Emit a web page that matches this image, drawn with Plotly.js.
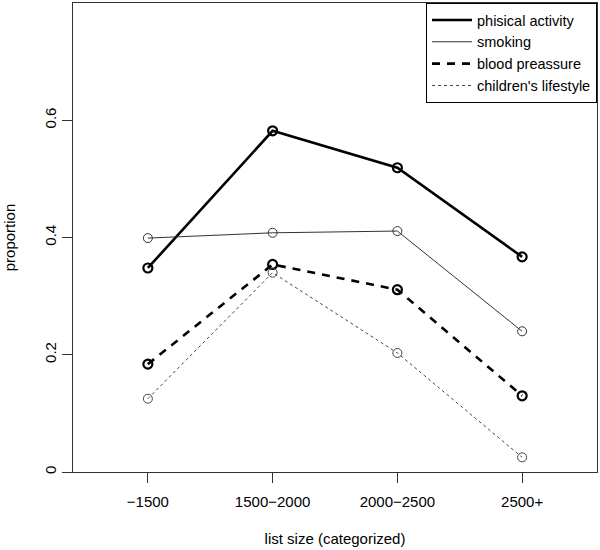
<!DOCTYPE html>
<html>
<head>
<meta charset="utf-8">
<script src="https://cdn.plot.ly/plotly-3.0.1.min.js"></script>
<style>html,body{margin:0;padding:0;background:#fff;}#chart{width:600px;height:550px;}</style>
</head>
<body>
<div id="chart"></div>
<script>
const categories = ["\u22121500", "1500\u22122000", "2000\u22122500", "2500+"];
const xPos = [1, 2, 3, 4];
const physicalActivity = [0.348, 0.582, 0.519, 0.367];
const smoking = [0.399, 0.408, 0.411, 0.240];
const bloodPressure = [0.184, 0.354, 0.311, 0.130];
const childrensLifestyle = [0.125, 0.340, 0.203, 0.025];
const seriesNames = ["phisical activity", "smoking", "blood preassure", "children's lifestyle"];
const yTicks = [0, 0.2, 0.4, 0.6];
const yTickLabels = ["0", "0.2", "0.4", "0.6"];

const styles = [
  {color: "#000", width: 2.6, dash: "solid", mw: 2.2},
  {color: "#333", width: 1, dash: "solid", mw: 1},
  {color: "#000", width: 2.6, dash: "8px,7px", mw: 2.2},
  {color: "#444", width: 1, dash: "3px,3px", mw: 1}
];
const allSeries = [physicalActivity, smoking, bloodPressure, childrensLifestyle];

const traces = [];
allSeries.forEach((ys, i) => {
  const s = styles[i];
  traces.push({
    x: xPos, y: ys, type: "scatter", mode: "lines",
    name: seriesNames[i],
    line: {color: s.color, width: s.width, dash: s.dash},
    hoverinfo: "skip"
  });
});
allSeries.forEach((ys, i) => {
  const s = styles[i];
  traces.push({
    x: xPos, y: ys, type: "scatter", mode: "markers",
    showlegend: false,
    marker: {symbol: "circle-open", size: 9, color: s.color, line: {width: s.mw, color: s.color}},
    hoverinfo: "skip"
  });
});

const font = {family: "Liberation Sans, Arial, sans-serif", size: 15, color: "#000"};

const layout = {
  width: 600, height: 550,
  margin: {l: 73, r: 3, t: 3, b: 78},
  paper_bgcolor: "#fff", plot_bgcolor: "#fff",
  font: font,
  showlegend: true,
  legend: {
    x: 1, xanchor: "right", y: 1, yanchor: "top",
    bgcolor: "#fff", bordercolor: "#000", borderwidth: 1,
    font: {family: font.family, size: 14.5, color: "#000"},
    tracegroupgap: 0, itemwidth: 40
  },
  xaxis: {
    range: [0.4, 4.6], tickvals: xPos, ticktext: categories,
    ticks: "outside", ticklen: 10, tickwidth: 1, tickcolor: "#333",
    showline: true, linecolor: "#333", linewidth: 1, mirror: true,
    showgrid: false, zeroline: false, ticklabelstandoff: 6,
    tickfont: font,
    title: {text: "list size (categorized)", font: font, standoff: 24}
  },
  yaxis: {
    range: [0, 0.8], tickvals: yTicks, ticktext: yTickLabels,
    ticks: "outside", ticklen: 10, tickwidth: 1, tickcolor: "#333",
    showline: true, linecolor: "#333", linewidth: 1, mirror: true,
    showgrid: false, zeroline: false, tickangle: -90,
    tickfont: font,
    title: {text: "proportion", font: font, standoff: 22}
  }
};

Plotly.newPlot("chart", traces, layout, {staticPlot: true, displayModeBar: false});
</script>
</body>
</html>
